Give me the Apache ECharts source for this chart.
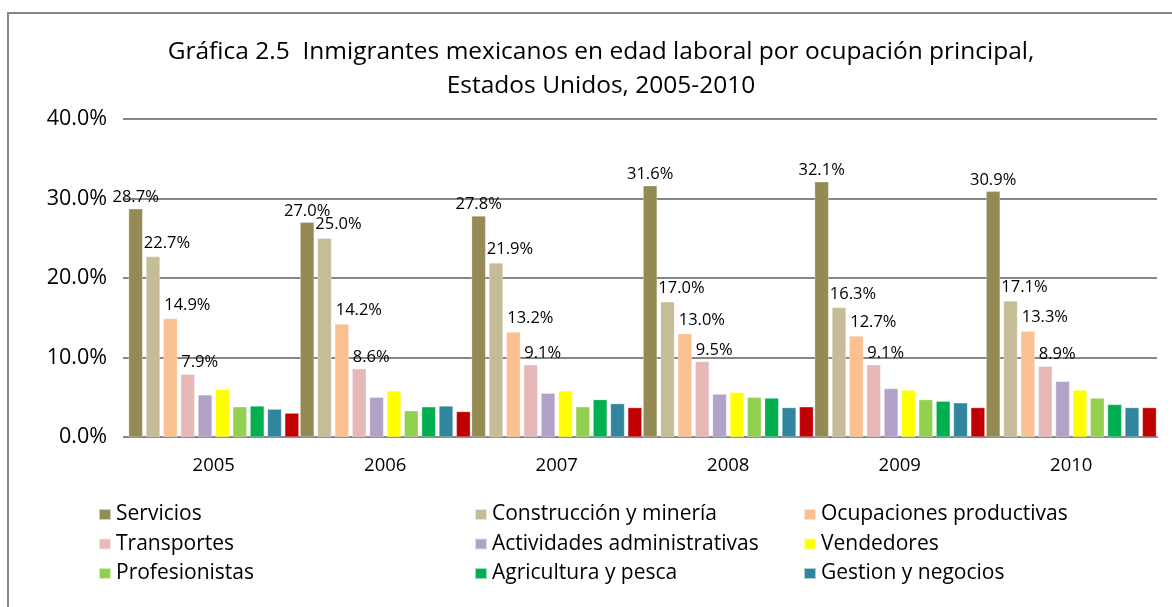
<!DOCTYPE html>
<html>
<head>
<meta charset="utf-8">
<script src="https://cdn.jsdelivr.net/npm/echarts@6/dist/echarts.min.js"></script>
<style>
  html, body { margin: 0; padding: 0; background: #fff; }
  #chart { width: 1172px; height: 607px; }
</style>
</head>
<body>
<div id="chart"></div>
<script>
// Años (categorías)
const years = ['2005', '2006', '2007', '2008', '2009', '2010'];

// Porcentaje de inmigrantes por ocupación principal
const servicios      = [28.7, 27.0, 27.8, 31.6, 32.1, 30.9];
const construccion   = [22.7, 25.0, 21.9, 17.0, 16.3, 17.1];
const productivas    = [14.9, 14.2, 13.2, 13.0, 12.7, 13.3];
const transportes    = [7.9, 8.6, 9.1, 9.5, 9.1, 8.9];
const administrativas = [5.3, 5.0, 5.5, 5.4, 6.1, 7.0];
const vendedores     = [6.0, 5.8, 5.8, 5.6, 5.9, 5.9];
const profesionistas = [3.8, 3.3, 3.8, 5.0, 4.7, 4.9];
const agricultura    = [3.9, 3.8, 4.7, 4.9, 4.5, 4.1];
const gestion        = [3.5, 3.9, 4.2, 3.7, 4.3, 3.7];
const otros          = [3.0, 3.2, 3.7, 3.8, 3.7, 3.7];

// Marcas del eje vertical
const yTicks = [0, 10, 20, 30, 40];

const FONT = '"Open Sans", Lato, sans-serif';

const seriesDefs = [
  { name: 'Servicios', data: servicios, color: '#948A54', label: [0, 0] },
  { name: 'Construcción y minería', data: construccion, color: '#C4BD97', label: [14, -2] },
  { name: 'Ocupaciones productivas', data: productivas, color: '#FAC090', label: [17, -2] },
  { name: 'Transportes', data: transportes, color: '#E6B9B8', label: [12, 0] },
  { name: 'Actividades administrativas', data: administrativas, color: '#B3A2C7' },
  { name: 'Vendedores', data: vendedores, color: '#FFFF00' },
  { name: 'Profesionistas', data: profesionistas, color: '#92D050' },
  { name: 'Agricultura y pesca', data: agricultura, color: '#00B050' },
  { name: 'Gestion y negocios', data: gestion, color: '#31859C' },
  { name: 'Otros', data: otros, color: '#C00000' }
];

const series = seriesDefs.map(s => ({
  name: s.name,
  type: 'bar',
  data: s.data,
  barWidth: 14,
  barGap: '24%',
  barCategoryGap: 0,
  itemStyle: { color: s.color, borderColor: 'rgba(255,255,255,0.6)', borderWidth: 0.5 },
  label: s.label ? {
    show: true,
    position: 'top',
    distance: 3,
    offset: s.label,
    formatter: p => p.value.toFixed(1) + '%',
    fontFamily: FONT,
    fontSize: 16.5,
    color: '#000'
  } : { show: false },
  emphasis: { disabled: true },
  animation: false
}));

const legendText = { fontFamily: FONT, fontSize: 21, color: '#000', lineHeight: 20 };
function legendCol(left, names) {
  return {
    orient: 'vertical',
    left: left,
    top: 504,
    padding: 0,
    itemWidth: 12,
    itemHeight: 11,
    itemGap: 8.5,
    icon: 'rect',
    selectedMode: false,
    textStyle: legendText,
    data: names
  };
}

const chart = echarts.init(document.getElementById('chart'), null, { renderer: 'canvas' });
chart.setOption({
  backgroundColor: '#fff',
  animation: false,
  title: {
    text: 'Gráfica 2.5  Inmigrantes mexicanos en edad laboral por ocupación principal,\nEstados Unidos, 2005-2010',
    left: 596,
    top: 30,
    textAlign: 'center',
    textStyle: {
      fontFamily: FONT,
      fontSize: 24.5,
      fontWeight: 'normal',
      color: '#000',
      lineHeight: 34,
      align: 'center'
    }
  },
  graphic: [{
    type: 'rect',
    shape: { x: 8, y: 13, width: 1180, height: 620 },
    style: { fill: 'none', stroke: '#868686', lineWidth: 2 },
    silent: true,
    z: 100
  }],
  legend: [
    legendCol(98, ['Servicios', 'Transportes', 'Profesionistas']),
    legendCol(474, ['Construcción y minería', 'Actividades administrativas', 'Agricultura y pesca']),
    legendCol(803, ['Ocupaciones productivas', 'Vendedores', 'Gestion y negocios'])
  ],
  grid: { left: 128, right: 15, top: 119, bottom: 170, containLabel: false },
  xAxis: {
    type: 'category',
    data: years,
    axisLine: { show: true, lineStyle: { color: '#868686', width: 2 } },
    axisTick: { show: false },
    axisLabel: { fontFamily: FONT, fontSize: 18.5, color: '#000', margin: 19 }
  },
  yAxis: {
    type: 'value',
    min: yTicks[0],
    max: yTicks[yTicks.length - 1],
    interval: 10,
    axisLine: { show: false },
    axisTick: { show: true, length: 5, lineStyle: { color: '#868686', width: 2 } },
    axisLabel: {
      fontFamily: FONT, fontSize: 21.5, color: '#000', margin: 21,
      formatter: v => v.toFixed(1) + '%'
    },
    splitLine: { show: true, lineStyle: { color: '#868686', width: 2 } }
  },
  series: series
});
</script>
</body>
</html>
